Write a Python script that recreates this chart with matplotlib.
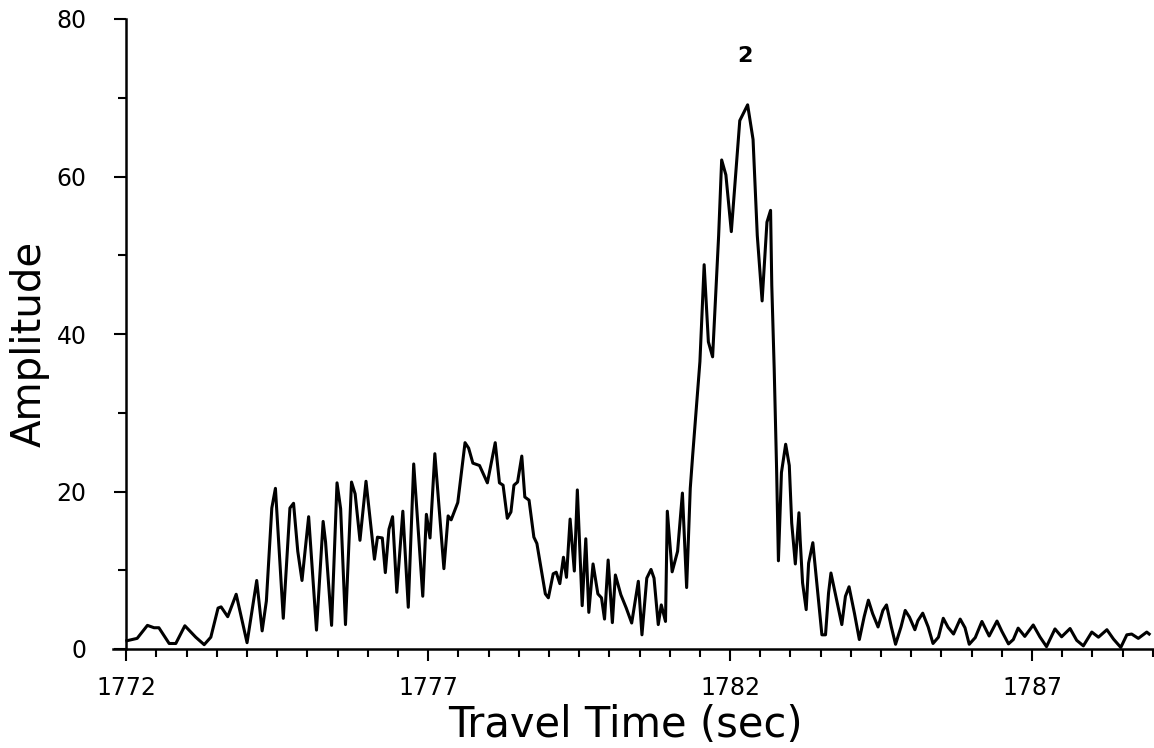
import matplotlib
matplotlib.use("Agg")
import matplotlib.pyplot as plt
import numpy as np

# travel time (sec) and amplitude
travel_time = [
    1772.01, 1772.18, 1772.35, 1772.46, 1772.54, 1772.71, 1772.82, 1772.97, 1773.15, 1773.29,
    1773.40, 1773.52, 1773.57, 1773.68, 1773.82, 1774.00, 1774.16, 1774.25, 1774.32, 1774.41,
    1774.47, 1774.60, 1774.71, 1774.77, 1774.84, 1774.91, 1775.02, 1775.15, 1775.26, 1775.30,
    1775.40, 1775.49, 1775.55, 1775.63, 1775.73, 1775.79, 1775.87, 1775.97, 1776.11, 1776.16,
    1776.24, 1776.29, 1776.35, 1776.41, 1776.48, 1776.58, 1776.67, 1776.76, 1776.91, 1776.97,
    1777.03, 1777.11, 1777.26, 1777.33, 1777.38, 1777.49, 1777.61, 1777.67, 1777.74, 1777.85,
    1777.98, 1778.11, 1778.18, 1778.24, 1778.31, 1778.37, 1778.42, 1778.48, 1778.55, 1778.60,
    1778.67, 1778.75, 1778.80, 1778.94, 1778.99, 1779.07, 1779.12, 1779.18, 1779.24, 1779.29,
    1779.35, 1779.42, 1779.47, 1779.55, 1779.61, 1779.66, 1779.73, 1779.81, 1779.87, 1779.92,
    1779.98, 1780.05, 1780.10, 1780.19, 1780.28, 1780.37, 1780.48, 1780.54, 1780.62, 1780.69,
    1780.74, 1780.81, 1780.86, 1780.93, 1780.96, 1781.04, 1781.13, 1781.21, 1781.28, 1781.34,
    1781.38, 1781.50, 1781.57, 1781.60, 1781.64, 1781.71, 1781.81, 1781.86, 1781.93, 1782.02,
    1782.16, 1782.29, 1782.38, 1782.45, 1782.53, 1782.61, 1782.67, 1782.69, 1782.73, 1782.77,
    1782.80, 1782.85, 1782.92, 1782.98, 1783.02, 1783.08, 1783.14, 1783.16, 1783.20, 1783.26,
    1783.30, 1783.37, 1783.43, 1783.52, 1783.58, 1783.63, 1783.67, 1783.74, 1783.85, 1783.91,
    1783.97, 1784.06, 1784.14, 1784.22, 1784.29, 1784.36, 1784.45, 1784.53, 1784.59, 1784.67,
    1784.74, 1784.83, 1784.90, 1784.97, 1785.06, 1785.11, 1785.19, 1785.28, 1785.36, 1785.45,
    1785.53, 1785.61, 1785.70, 1785.81, 1785.89, 1785.96, 1786.06, 1786.17, 1786.29, 1786.42,
    1786.50, 1786.61, 1786.69, 1786.77, 1786.88, 1787.02, 1787.13, 1787.24, 1787.38, 1787.49,
    1787.63, 1787.74, 1787.85, 1787.99, 1788.10, 1788.24, 1788.35, 1788.47, 1788.57, 1788.65,
    1788.76, 1788.90, 1788.94,
]
amplitude = [
    1.05, 1.35, 3.0, 2.7, 2.7, 0.7, 0.7, 2.95, 1.5, 0.55,
    1.5, 5.2, 5.35, 4.1, 6.95, 0.8, 8.7, 2.3, 6.1, 17.9,
    20.4, 3.9, 17.9, 18.5, 12.4, 8.7, 16.8, 2.4, 16.2, 13.6,
    3.0, 21.1, 17.8, 3.1, 21.2, 19.7, 13.8, 21.3, 11.4, 14.2,
    14.1, 9.7, 15.2, 16.8, 7.2, 17.5, 5.3, 23.5, 6.7, 17.1,
    14.1, 24.8, 10.2, 16.9, 16.4, 18.6, 26.2, 25.5, 23.6, 23.3,
    21.1, 26.2, 21.1, 20.8, 16.6, 17.4, 20.8, 21.2, 24.5, 19.3,
    18.9, 14.2, 13.4, 7.0, 6.5, 9.55, 9.75, 8.3, 11.65, 9.1,
    16.5, 9.9, 20.2, 5.5, 14.0, 4.65, 10.8, 7.0, 6.5, 3.8,
    11.3, 3.35, 9.4, 6.9, 5.2, 3.3, 8.6, 1.8, 9.0, 10.1,
    9.0, 3.1, 5.6, 3.5, 17.5, 9.8, 12.4, 19.8, 7.8, 20.4,
    24.6, 36.5, 48.8, 44.5, 39.0, 37.1, 52.5, 62.1, 60.2, 53.0,
    67.1, 69.1, 64.7, 52.5, 44.2, 54.2, 55.7, 46.2, 35.6, 22.8,
    11.2, 22.4, 26.0, 23.3, 16.0, 10.8, 17.3, 13.9, 8.4, 5.0,
    10.9, 13.5, 8.8, 1.8, 1.8, 7.1, 9.65, 7.1, 3.1, 6.7,
    7.9, 4.5, 1.2, 4.1, 6.2, 4.5, 2.8, 4.9, 5.6, 2.8,
    0.6, 2.8, 4.9, 4.05, 2.45, 3.6, 4.55, 2.8, 0.7, 1.5,
    3.9, 2.75, 1.9, 3.8, 2.7, 0.6, 1.45, 3.5, 1.65, 3.55,
    2.25, 0.65, 1.2, 2.65, 1.6, 3.05, 1.55, 0.3, 2.55, 1.55,
    2.6, 1.1, 0.4, 2.15, 1.5, 2.45, 1.25, 0.2, 1.8, 1.9,
    1.35, 2.15, 1.9,
]

x_major = [1772, 1777, 1782, 1787]
y_major = [0, 20, 40, 60, 80]
y_minor = [10, 30, 50, 70]
peak_label = "2"
peak_label_pos = (1782.24, 75.3)

plt.rcParams['font.family'] = ['DejaVu Sans']

fig = plt.figure(figsize=(11.54, 7.48), dpi=100)
ax = fig.add_axes([113 / 1154, 99 / 748, 1041 / 1154, 630 / 748])

ax.plot(travel_time, amplitude, color='black', lw=2.2, solid_joinstyle='round')

ax.set_xlim(1771.78, 1789.02)
ax.set_ylim(0, 80)

ax.spines['top'].set_visible(False)
ax.spines['right'].set_visible(False)
ax.spines['left'].set_position(('data', 1772))
ax.spines['left'].set_linewidth(1.8)
ax.spines['bottom'].set_linewidth(1.8)

ax.set_xticks(x_major)
ax.set_xticks(np.arange(1772.5, 1789.01, 0.5), minor=True)
ax.set_yticks(y_major)
ax.set_yticks(y_minor, minor=True)

ax.tick_params(axis='x', which='major', direction='out', length=8.6, width=1.5,
               pad=11, labelsize=17)
ax.tick_params(axis='x', which='minor', direction='out', length=5.5, width=1.5)
ax.tick_params(axis='y', which='major', direction='out', length=8.6, width=1.5,
               pad=20, labelsize=17)
ax.tick_params(axis='y', which='minor', direction='out', length=6, width=1.5)

ax.set_xlabel('Travel Time (sec)', fontsize=30)
ax.xaxis.label.set_va('baseline')
ax.xaxis.set_label_coords(0.492, -0.139)

ax.set_ylabel('Amplitude', fontsize=29)
ax.yaxis.label.set_va('center')
ax.yaxis.set_label_coords(-0.08, 0.484)

ax.text(peak_label_pos[0], peak_label_pos[1], peak_label, fontsize=16,
        fontweight='bold', ha='center', va='center')

fig.savefig('out.png', dpi=100)
